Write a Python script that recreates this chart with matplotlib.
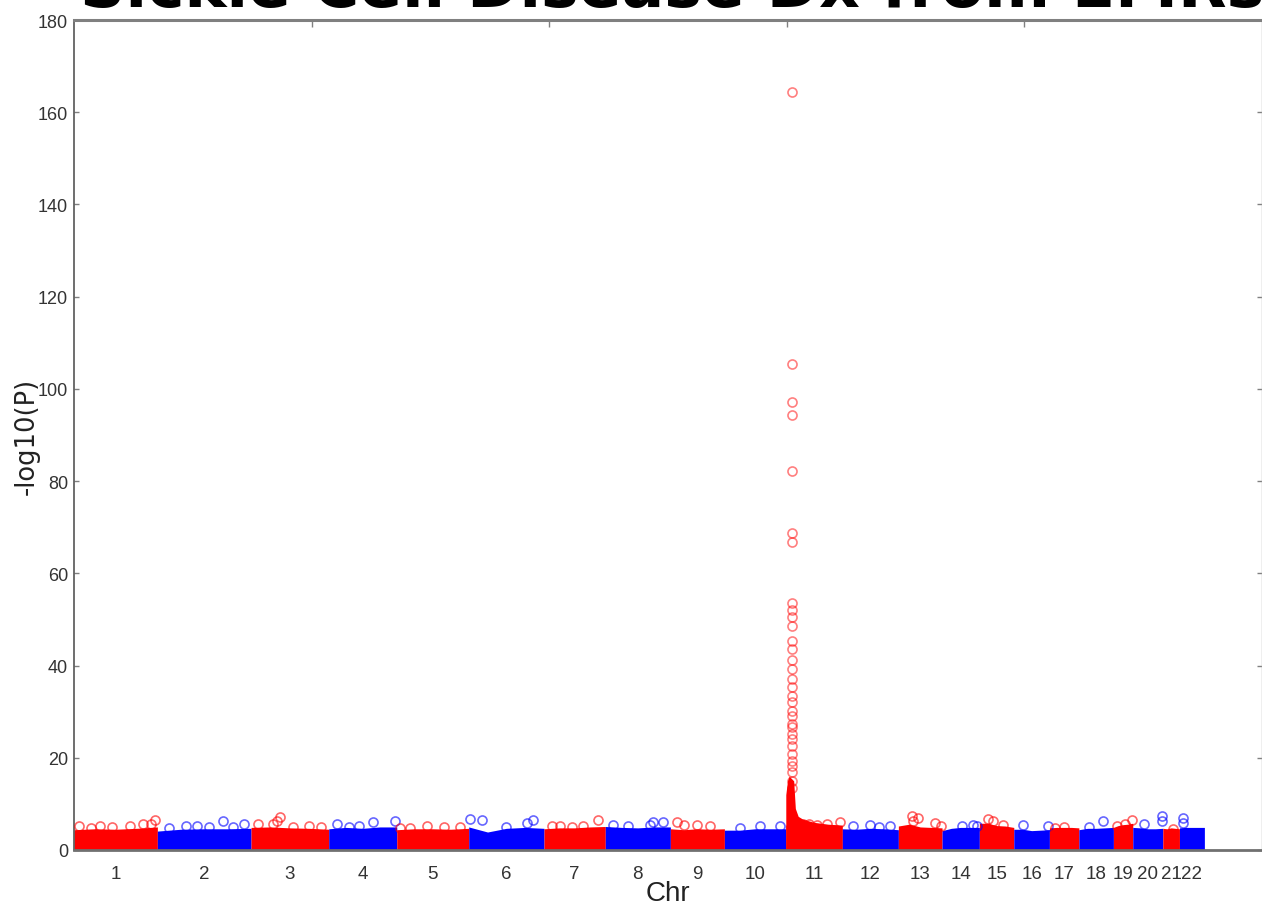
import numpy as np
import matplotlib
matplotlib.use("Agg")
import matplotlib.pyplot as plt

# --- Data ---
chroms = [str(i) for i in range(1, 23)]
# SNPs per chromosome (x axis is SNP index, 0..500k)
chr_snps = [35100, 39450, 32700, 28650, 30300, 31700, 25800, 27400, 22750, 25850, 23700,
            23700, 18400, 15700, 14500, 15000, 12400, 14550, 8150, 12650, 7000, 10500]

# top of the dense band, at 0, 1/4, 1/2, 3/4 and end of each chromosome
band_top = [
    [4.4, 4.6, 4.5, 4.7, 5.0], [4.1, 4.5, 4.6, 4.6, 4.7], [4.9, 5.0, 4.8, 4.7, 4.5],
    [4.6, 4.9, 4.7, 5.0, 5.0], [4.4, 4.6, 4.6, 4.5, 4.7], [5.0, 3.9, 4.7, 4.9, 4.7],
    [4.6, 4.8, 4.8, 5.0, 5.1], [5.1, 4.9, 4.8, 5.0, 5.0], [4.6, 4.4, 4.6, 4.5, 4.6],
    [4.3, 4.3, 4.6, 4.6, 4.6], [5.4, 6.0, 5.7, 5.5, 5.3], [4.6, 4.5, 4.7, 4.6, 4.4],
    [5.2, 5.6, 5.0, 4.9, 4.8], [4.2, 4.7, 4.9, 4.9, 4.9], [5.8, 5.8, 5.3, 5.2, 4.9],
    [4.5, 4.5, 4.2, 4.3, 4.4], [4.8, 4.9, 4.9, 4.9, 4.8], [4.4, 4.7, 4.7, 4.8, 4.9],
    [4.9, 5.3, 5.5, 5.6, 5.8], [4.9, 4.8, 4.6, 4.6, 4.7], [4.7, 4.6, 4.8, 4.7, 4.6],
    [4.8, 4.9, 4.9, 4.9, 4.9],
]

# chr11 spike (solid part), fraction along chr11 -> -log10(P)
spike_frac = [0.0, 0.03, 0.06, 0.14, 0.17, 0.22, 0.30, 0.50, 0.75, 1.0]
spike_top = [12.0, 15.0, 16.0, 15.0, 9.0, 7.3, 6.7, 6.0, 5.6, 5.4]

# isolated circles above the band: chromosome, fraction along it, -log10(P)
hit_chr = [1, 1, 1, 1, 1, 1, 1, 1, 2, 2, 2, 2, 2, 2, 2, 3, 3, 3, 3, 3, 3, 3, 4, 4, 4, 4, 4,
           5, 5, 5, 5, 5, 6, 6, 6, 6, 6, 7, 7, 7, 7, 7, 8, 8, 8, 8, 8, 9, 9, 9, 9,
           10, 10, 10, 11, 11, 11, 11, 11, 12, 12, 12, 12, 13, 13, 13, 13, 13, 14, 14, 14,
           15, 15, 15, 16, 16, 17, 17, 18, 18, 19, 19, 19, 20, 20, 20, 21, 22, 22]
hit_frac = [.06, .31, .67, .83, .92, .97, .45, .20,
            .31, .42, .70, .81, .92, .12, .55,
            .09, .28, .33, .37, .54, .74, .90,
            .12, .65, .97, .45, .30,
            .18, .42, .88, .65, .05,
            .02, .17, .77, .86, .50,
            .13, .26, .64, .88, .45,
            .12, .69, .74, .89, .35,
            .13, .25, .49, .74,
            .58, .91, .25,
            .31, .55, .73, .97, .42,
            .20, .50, .85, .65,
            .31, .34, .46, .84, .98,
            .53, .83, .93,
            .26, .41, .70, .27, .97, .48, .20, .71, .30,
            .17, .60, .98, .36, .98, .98, .64, .16, .16]
hit_val = [5.1, 5.1, 5.1, 5.7, 5.7, 6.6, 4.9, 4.8,
           5.1, 5.2, 6.2, 4.9, 5.7, 4.8, 5.0,
           5.7, 5.7, 6.2, 7.2, 4.9, 5.2, 5.0,
           5.7, 6.0, 6.2, 5.3, 5.0,
           4.7, 5.2, 4.9, 5.0, 4.8,
           6.8, 6.6, 5.9, 6.6, 5.0,
           5.2, 5.2, 5.2, 6.6, 5.0,
           5.5, 5.5, 6.0, 6.0, 5.1,
           6.0, 5.5, 5.5, 5.2,
           5.1, 5.1, 4.7,
           5.7, 5.5, 5.7, 6.0, 5.6,
           5.1, 5.5, 5.2, 4.9,
           7.4, 6.2, 6.9, 5.9, 5.2,
           5.2, 5.5, 5.2,
           6.8, 6.2, 5.5, 5.5, 5.2, 4.9, 4.8, 6.2, 4.9,
           5.1, 5.7, 6.6, 5.7, 7.3, 6.2, 4.6, 6.9, 5.9]

# the HBB signal column on chr11
peak_chr = 11
peak_frac = 0.106
peak_vals = [164.4, 105.3, 97.1, 94.4, 82.3, 68.8, 66.7, 53.6, 52.1, 50.6, 48.6, 45.4,
             43.6, 41.1, 39.3, 37.1, 35.3, 33.5, 32.0, 30.2, 29.1, 27.3, 26.6, 25.2,
             24.1, 22.6, 20.8, 19.4, 18.3, 16.9, 15.0, 13.5]

title = "Sickle Cell Disease Dx from EMRs"
colors = ["#ff0000", "#0000ff"]

# --- Layout helpers ---
starts = np.concatenate([[0], np.cumsum(chr_snps)[:-1]])
centers = starts + np.array(chr_snps) / 2.0
quarters = [0, 0.25, 0.5, 0.75, 1.0]

tickfont = ["Liberation Sans", "DejaVu Sans"]

fig = plt.figure(figsize=(12.62, 9.2), dpi=100)
ax = fig.add_axes([74 / 1262, 69 / 920, 1187.5 / 1262, 830 / 920])

for i in range(len(chroms)):
    c = colors[i % 2]
    xs = starts[i] + np.array(quarters) * chr_snps[i]
    ax.fill_between(xs, 0, band_top[i], color=c, lw=0, zorder=2)

# chr11 spike
k = peak_chr - 1
xs = starts[k] + np.array(spike_frac) * chr_snps[k]
ax.fill_between(xs, 0, spike_top, color=colors[k % 2], lw=0, zorder=2)

# circles above the band
for ch, f, v in zip(hit_chr, hit_frac, hit_val):
    c = colors[(ch - 1) % 2]
    ax.plot(starts[ch - 1] + f * chr_snps[ch - 1], v, "o", ms=6.5, mfc="none",
            mec=c, mew=1.2, alpha=0.6, zorder=3)

xp = starts[k] + peak_frac * chr_snps[k]
ax.plot(np.full(len(peak_vals), xp), peak_vals, "o", ms=6.5, mfc="none",
        mec=colors[k % 2], mew=1.2, alpha=0.5, zorder=3)

ax.set_xlim(0, 500000)
ax.set_ylim(0, 180)
ax.set_yticks(np.arange(0, 181, 20))

ax.set_xticks(centers)
ax.set_xticklabels(chroms)
ax.set_xticks(np.arange(100000, 500000, 100000), minor=True)
ax.tick_params(axis="x", which="major", length=0, pad=11, labelsize=13.5,
               labelcolor="#333333")
ax.tick_params(axis="x", which="minor", direction="in", length=5, width=1,
               color="#808080", top=True, bottom=True)
ax.tick_params(axis="y", direction="in", length=3.5, width=1, color="#808080",
               left=True, right=True, pad=4.3, labelsize=13, labelcolor="#333333")
for lab in ax.get_xticklabels() + ax.get_yticklabels():
    lab.set_family(tickfont)

ax.spines["top"].set_color("#808080")
ax.spines["top"].set_linewidth(2.2)
ax.spines["bottom"].set_color("#707070")
ax.spines["bottom"].set_linewidth(2.0)
ax.spines["left"].set_color("#555555")
ax.spines["left"].set_linewidth(1.2)
ax.spines["right"].set_color("#b0b0b0")
ax.spines["right"].set_linewidth(1.0)

ax.set_xlabel("Chr", family=tickfont, fontsize=20, color="#222222")
ax.xaxis.set_label_coords(0.5, -0.036)
ax.set_ylabel("-log10(P)", family="DejaVu Sans", fontsize=18.5, color="#222222")
ax.yaxis.set_label_coords(-0.0285, 0.5)

fig.text(80 / 1262, 1 - 7.5 / 920, title, fontsize=45.5, fontweight="bold",
         family="DejaVu Sans", ha="left", va="baseline")

fig.savefig("out.png", dpi=100)
